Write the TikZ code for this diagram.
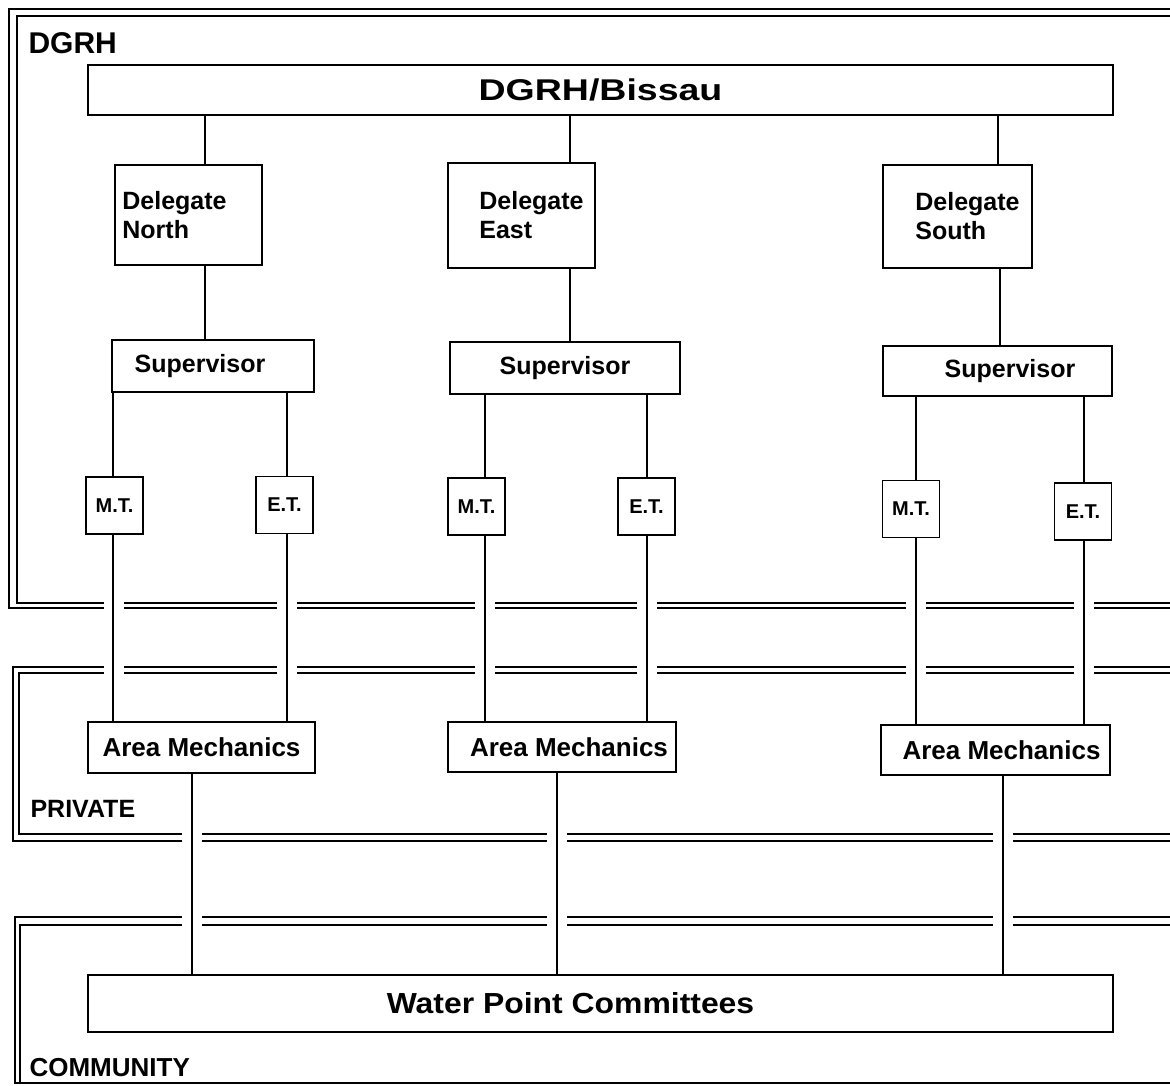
\documentclass[tikz,border=0pt]{standalone}
\usepackage{fontspec}
\setmainfont{Liberation Sans}
\usepackage{graphicx}
\tikzset{
    orgbox/.style={draw, line width=1.4pt, inner sep=0pt, font=\bfseries\fontsize{25}{29}\selectfont}, % boxes of the chart
    small box/.style={orgbox, minimum width=57pt, minimum height=57pt, font=\bfseries\fontsize{20}{24}\selectfont},
    region/.style={line width=1.3pt}, % double frame of a sector
    zone/.style={anchor=base west, font=\bfseries\fontsize{26}{30}\selectfont},
    link/.style={line width=1.3pt}
}
\begin{document}
\begin{tikzpicture}[x=1pt, y=-1pt]
    \useasboundingbox (0,0) rectangle (1170,1085);

    % sectors
    \draw[region] (1170,9) -- (9,9) -- (9,608) -- (1170,608);
    \draw[region] (1170,16) -- (17,16) -- (17,603) -- (1170,603);
    \draw[region] (1170,667) -- (13,667) -- (13,841) -- (1170,841);
    \draw[region] (1170,673) -- (19,673) -- (19,834) -- (1170,834);
    \draw[region] (1170,917) -- (15,917) -- (15,1083) -- (1170,1083);
    \draw[region] (1170,925) -- (20,925) -- (20,1083);
    \foreach \x in {114,287,485,647,916,1084} {
        \fill[white] (\x-10,598) rectangle (\x+10,613);
        \fill[white] (\x-10,662) rectangle (\x+10,678);}
    \foreach \x in {192,557,1003} {
        \fill[white] (\x-10,829) rectangle (\x+10,846);
        \fill[white] (\x-10,912) rectangle (\x+10,930);}

    \node[zone, font=\bfseries\fontsize{30}{34}\selectfont] (lgrh) at (25,53) {DGRH};
    \node[zone, font=\bfseries\fontsize{25}{29}\selectfont] (lpriv) at (27,817) {PRIVATE};
    \node[zone] (lcom) at (26,1076) {COMMUNITY};

    \node[orgbox, minimum width=1025pt, minimum height=50pt, font=\bfseries\fontsize{30}{34}\selectfont] (bissau) at (600.5,90) {\scalebox{1.25}[1]{DGRH/Bissau}};

    \node[orgbox, minimum width=147pt, minimum height=100pt, align=left] (delN) at (188.5,215) {Delegate\hspace*{28pt}\\North};
    \node[orgbox, minimum width=147pt, minimum height=105pt, align=left] (delE) at (521.5,215.5) {\hspace*{20pt}Delegate\\\hspace*{20pt}East};
    \node[orgbox, minimum width=149pt, minimum height=103pt, align=left] (delS) at (957.5,216.5) {\hspace*{20pt}Delegate\\\hspace*{20pt}South};

    \node[orgbox, minimum width=202pt, minimum height=52pt] (supN) at (213,366) {Supervisor\hspace*{26pt}};
    \node[orgbox, minimum width=230pt, minimum height=52pt] (supE) at (565,368) {Supervisor};
    \node[orgbox, minimum width=229pt, minimum height=50pt] (supS) at (997.5,371) {\hspace*{25pt}Supervisor};

    \node[small box] (mtN) at (114.5,505.5) {M.T.};
    \node[small box] (etN) at (284.5,505) {E.T.};
    \node[small box] (mtE) at (476.5,506.5) {M.T.};
    \node[small box] (etE) at (646.5,506.5) {E.T.};
    \node[small box] (mtS) at (911,509) {M.T.};
    \node[small box] (etS) at (1083,511.5) {E.T.};

    \node[orgbox, minimum width=227pt, minimum height=51pt, font=\bfseries\fontsize{26}{30}\selectfont] (amN) at (201.5,747.5) {Area Mechanics};
    \node[orgbox, minimum width=228pt, minimum height=50pt, font=\bfseries\fontsize{26}{30}\selectfont] (amE) at (562,747) {\hspace*{14pt}Area Mechanics};
    \node[orgbox, minimum width=229pt, minimum height=50pt, font=\bfseries\fontsize{26}{30}\selectfont] (amS) at (995.5,750) {\hspace*{12pt}Area Mechanics};

    \node[orgbox, minimum width=1025pt, minimum height=57pt, font=\bfseries\fontsize{29}{33}\selectfont] (wpc) at (600.5,1003.5) {\scalebox{1.1}[1]{Water Point Committees}\hspace*{60pt}};

    \foreach \a/\b/\x in {bissau/delN/205, bissau/delE/570, bissau/delS/998,
        delN/supN/205, delE/supE/570, delS/supS/1000,
        supN/mtN/113, supN/etN/287, supE/mtE/485, supE/etE/647, supS/mtS/916, supS/etS/1084,
        mtN/amN/113, etN/amN/287, mtE/amE/485, etE/amE/647, mtS/amS/916, etS/amS/1084,
        amN/wpc/192, amE/wpc/557, amS/wpc/1003}
        \draw[link] (\a.south -| \x,0) -- (\b.north -| \x,0);
\end{tikzpicture}
\end{document}
